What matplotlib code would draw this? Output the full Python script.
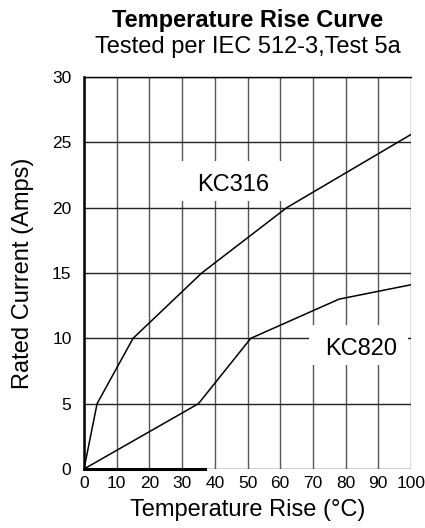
import matplotlib
matplotlib.use("Agg")
import matplotlib.pyplot as plt

plt.rcParams['font.family'] = ['Liberation Sans', 'DejaVu Sans']

kc316_x = [0, 4, 15, 36, 62, 100]
kc316_y = [0, 5, 10, 15, 20, 25.6]
kc820_x = [0, 35, 51, 78, 100]
kc820_y = [0, 5, 10, 13, 14.1]
x_ticks = [0, 10, 20, 30, 40, 50, 60, 70, 80, 90, 100]
y_ticks = [0, 5, 10, 15, 20, 25, 30]

fig = plt.figure(figsize=(4.25, 5.28), dpi=100)
ax = fig.add_axes([84/425, 1-469/528, (411-84)/425, (469-77)/528])
ax.set_xlim(0, 100)
ax.set_ylim(0, 30)

for xv in x_ticks:
    ax.axvline(xv, color='#555555', lw=1.0, zorder=1)
for yv in y_ticks:
    ax.axhline(yv, color='#222222', lw=1.0, zorder=1)

ax.plot(kc316_x, kc316_y, color='black', lw=1.1, zorder=3)
ax.plot(kc820_x, kc820_y, color='black', lw=1.1, zorder=3)
ax.plot([0, 37], [0, 0], color='black', lw=2.2, zorder=3, clip_on=False)

# white label boxes
ax.add_patch(plt.Rectangle((29.6, 20.5), 32, 3.05, facecolor='white', edgecolor='none', zorder=2))
ax.add_patch(plt.Rectangle((68.8, 7.95), 30.3, 3.1, facecolor='white', edgecolor='none', zorder=2))
ax.text(45.6, 21.7, 'KC316', fontsize=17, ha='center', va='center', zorder=4)
ax.text(84.8, 9.2, 'KC820', fontsize=17, ha='center', va='center', zorder=4)

for s in ['right', 'bottom']:
    ax.spines[s].set_visible(False)
ax.spines['left'].set_linewidth(1.8)
ax.spines['top'].set_linewidth(1.0)
ax.spines['left'].set_zorder(5)

ax.set_xticks(x_ticks)
ax.set_yticks(y_ticks)
ax.tick_params(axis='both', length=0, labelsize=12.5)
ax.tick_params(axis='x', pad=5)
ax.tick_params(axis='y', pad=9)

ax.set_xlabel('Temperature Rise (°C)', fontsize=17, labelpad=6)
ax.set_ylabel('Rated Current (Amps)', fontsize=17, labelpad=13)

fig.text(247.5/425, 1-20/528, 'Temperature Rise Curve', fontsize=17, fontweight='bold', ha='center', va='center')
fig.text(247.5/425, 1-47/528, 'Tested per IEC 512-3,Test 5a', fontsize=17, ha='center', va='center')

fig.savefig('out.png', dpi=100)
